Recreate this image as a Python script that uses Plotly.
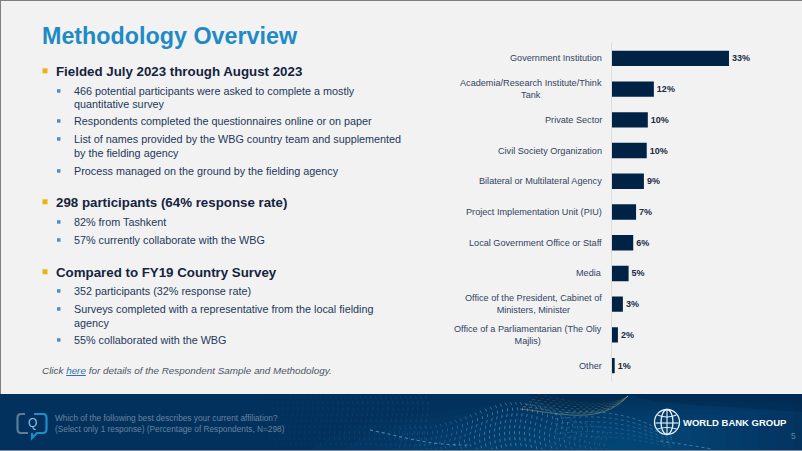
import math
import plotly.graph_objects as go

W, H = 802, 451
FONT = "Liberation Sans"

# ---------- chart data ----------
categories = [
    "Government Institution",
    "Academia/Research Institute/Think<br>Tank",
    "Private Sector",
    "Civil Society Organization",
    "Bilateral or Multilateral Agency",
    "Project Implementation Unit (PIU)",
    "Local Government Office or Staff",
    "Media",
    "Office of the President, Cabinet of<br>Ministers, Minister",
    "Office of a Parliamentarian (The Oliy<br>Majlis)",
    "Other",
]
values = [33, 11.9, 10.2, 9.9, 9.1, 6.9, 6.1, 4.8, 3.2, 1.8, 0.9]
value_labels = ["33%", "12%", "10%", "10%", "9%", "7%", "6%", "5%", "3%", "2%", "1%"]

# ---------- slide text ----------
title = "Methodology Overview"
headings = [
    ("Fielded July 2023 through August 2023", 71),
    ("298 participants (64% response rate)", 202),
    ("Compared to FY19 Country Survey", 272),
]
bullets = [
    ("466 potential participants were asked to complete a mostly", 91, True),
    ("quantitative survey", 104, False),
    ("Respondents completed the questionnaires online or on paper", 121, True),
    ("List of names provided by the WBG country team and supplemented", 139, True),
    ("by the fielding agency", 153, False),
    ("Process managed on the ground by the fielding agency", 171, True),
    ("82% from Tashkent", 222, True),
    ("57% currently collaborate with the WBG", 240, True),
    ("352 participants (32% response rate)", 291, True),
    ("Surveys completed with a representative from the local fielding", 309, True),
    ("agency", 323, False),
    ("55% collaborated with the WBG", 340, True),
]
footnote = ("Click <a href='#' style='color:#2f6fb5'><u>here</u></a> for details of the "
            "Respondent Sample and Methodology.")
question = ("Which of the following best describes your current affiliation?<br>"
            "(Select only 1 response) (Percentage of Respondents, N=298)")


def px(x):
    return x / W


def py(y):
    return 1 - y / H


def rect(x0, y0, x1, y1, color, layer="below"):
    return dict(type="rect", xref="paper", yref="paper", x0=px(x0), x1=px(x1),
                y0=py(y0), y1=py(y1), fillcolor=color, line_width=0, layer=layer)


def curve(cmds, fill=None, line=None, width=1, layer="below", dash="solid"):
    """cmds: list of (letter, x, y, ...) in pixels."""
    s = []
    for c in cmds:
        s.append(c[0] + " " + " ".join(
            f"{px(v):.5f}" if i % 2 == 0 else f"{py(v):.5f}" for i, v in enumerate(c[1:])))
    return dict(type="path", xref="paper", yref="paper", path=" ".join(s),
                fillcolor=fill or "rgba(0,0,0,0)",
                line=dict(color=line or "rgba(0,0,0,0)", width=width if line else 0, dash=dash), layer=layer)


def text(x, y, s, size, color, bold=False, italic=False, anchor="left", valign="middle", align=None):
    if bold:
        s = f"<b>{s}</b>"
    if italic:
        s = f"<i>{s}</i>"
    return dict(xref="paper", yref="paper", x=px(x), y=py(y), text=s, showarrow=False,
                xanchor=anchor, yanchor=valign, align=align or anchor,
                font=dict(family=FONT, size=size, color=color), borderpad=0, borderwidth=0)


shapes = []
# slide frame
shapes += [rect(0, 0, W, 1, "#7f7f7f"), rect(0, 0, 1, H, "#7f7f7f")]

# footer band
shapes.append(rect(0, 394, W, 450, "#03315d"))
shapes.append(rect(0, 450, W, H, "#7f8c99"))

# soft glow: nested translucent blobs clipped to the band
for i in range(10):
    f = 1 - i / 10
    xl, xr = 640 - 330 * f, 640 + 170 * f
    top = 438 - 44 * f
    shapes.append(curve([("M", xl, 450), ("C", xl + 60 * f, top, xr - 100 * f, top, xr, max(top, 396) + 6 * f),
                         ("L", xr, 450), ("Z",)], fill="rgba(12,105,155,0.06)"))

# dark swoosh behind the gold wave and on the right
shapes.append(curve([("M", 528, 394), ("C", 555, 414, 600, 422, 628, 394), ("Z",)], fill="rgba(0,34,66,0.40)"))
shapes.append(curve([("M", 628, 394), ("C", 650, 404, 690, 404, 802, 412), ("L", 802, 394), ("Z",)], fill="rgba(0,34,66,0.35)"))

# dotted mesh strands
for x in range(270, 430, 5):
    a = 0.05 + 0.10 * (x - 270) / 160
    shapes.append(curve([("M", x, 396), ("C", x + 10, 410, x - 8, 430, x + 3, 449)],
                        line=f"rgba(130,190,225,{a:.3f})", width=0.8, dash="dot"))
for x in range(400, 610, 5):
    a = 0.10 + 0.35 * math.exp(-((x - 510) / 70) ** 2)
    top = 428 - 26 * math.exp(-((x - 515) / 55) ** 2)
    shapes.append(curve([("M", x, top), ("C", x + 8, top + 10, x - 6, top + 20, x + 2, 449)],
                        line=f"rgba(150,205,235,{a:.3f})", width=0.9, dash="dot"))

# gold wave lines
for i in range(7):
    dy = -2.4 * i
    col = f"rgba(205,190,110,{0.5 - i * 0.06:.2f})"
    shapes.append(curve([("M", 520 + 3 * i, 409 + dy), ("C", 560, 413 + dy, 600, 426 + dy, 628, 396)],
                        line=col, width=0.8, dash="dot" if i else "solid"))

# blue wave lines
for i in range(6):
    dy = i * 5
    col = f"rgba(125,195,230,{0.40 - i * 0.05:.2f})"
    shapes.append(curve([("M", 555, 414 + dy), ("C", 600, 408 + dy, 640, 414 + dy, 672, 438 + dy * 0.4)],
                        line=col, width=0.9, dash="dot"))
shapes.append(curve([("M", 370, 430), ("C", 400, 436, 430, 446, 470, 445)], line="rgba(130,200,235,0.55)", width=1.1, dash="dot"))
shapes.append(curve([("M", 660, 441), ("C", 680, 444, 695, 446, 712, 449)], line="rgba(130,200,235,0.45)", width=1, dash="dot"))

# Q icon
shapes.append(curve([("M", 25, 414), ("L", 21, 414), ("Q", 17.5, 414, 17.5, 418), ("L", 17.5, 429), ("Q", 17.5, 433, 21, 433), ("L", 28, 433)],
                    line="#5c7c97", width=2.2))
shapes.append(curve([("M", 34, 414), ("L", 43, 414), ("Q", 46.5, 414, 46.5, 418), ("L", 46.5, 429), ("Q", 46.5, 433, 43, 433),
                     ("L", 37, 433), ("L", 32, 438), ("L", 32, 433)], line="#1f8dc6", width=2.2))

# globe logo
gx, gy, gr = 667, 422, 12.5
k = 0.5523
logo = "#e8f2f7"


def ell(rx, ry):
    return curve([("M", gx - rx, gy), ("C", gx - rx, gy - k * ry, gx - k * rx, gy - ry, gx, gy - ry),
                  ("C", gx + k * rx, gy - ry, gx + rx, gy - k * ry, gx + rx, gy),
                  ("C", gx + rx, gy + k * ry, gx + k * rx, gy + ry, gx, gy + ry),
                  ("C", gx - k * rx, gy + ry, gx - rx, gy + k * ry, gx - rx, gy), ("Z",)], line=logo, width=1.3)


shapes += [ell(gr, gr), ell(gr * 0.48, gr)]
shapes.append(curve([("M", gx, gy - gr), ("L", gx, gy + gr)], line=logo, width=1.1))
shapes.append(curve([("M", gx - gr + 1, gy + 1), ("L", gx + gr - 1, gy + 1)], line=logo, width=1.1))
shapes.append(curve([("M", gx - gr + 3, gy - 7), ("Q", gx, gy - 3, gx + gr - 3, gy - 7)], line=logo, width=1.1))
shapes.append(curve([("M", gx - gr + 3, gy + 7), ("Q", gx, gy + 4, gx + gr - 3, gy + 7)], line=logo, width=1.1))

# bullets
for _, y in headings:
    shapes.append(rect(42.5, y - 2.7, 47.5, y + 2.3, "#e6b60f"))
for _, y, mark in bullets:
    if mark:
        shapes.append(rect(57, y - 1.8, 60.5, y + 1.7, "#4f8fb8"))

annotations = [text(41.5, 36, title, 23.3, "#1f8ac4", bold=True)]
for s, y in headings:
    annotations.append(text(56, y, s, 13.3, "#14233f", bold=True))
for s, y, _ in bullets:
    annotations.append(text(74, y, s, 10.8, "#22385a"))
annotations.append(text(41.5, 370, footnote, 9.9, "#4a5568", italic=True))
annotations.append(text(55, 423, question, 8.3, "#66849c"))
annotations.append(text(32, 423, "Q", 12, "#8cc4e4", anchor="center"))
annotations.append(text(682.5, 422, "WORLD BANK GROUP", 9.5, "#ffffff", bold=True))
annotations.append(text(793, 436, "5", 8.5, "#5f87a0", anchor="center"))

# category labels, tied to the chart's own category axis
for c in categories:
    annotations.append(dict(xref="paper", yref="y", x=px(603.5), y=c, text=c, showarrow=False,
                            xanchor="right", yanchor="middle", align="center",
                            font=dict(family=FONT, size=9.15, color="#33425f")))

fig = go.Figure(go.Bar(
    x=values, y=categories, orientation="h", marker=dict(color="#002244", line_width=0),
    text=value_labels, textposition="outside", cliponaxis=False,
    textfont=dict(family=FONT, size=9, color="#1b2a45", weight="bold"), hoverinfo="skip",
))

X0, Y0, Y1 = 611.5, 43, 381
fig.update_layout(
    width=W, height=H, margin=dict(l=0, r=0, t=0, b=0), autosize=False,
    paper_bgcolor="#f2f2f2", plot_bgcolor="rgba(0,0,0,0)", showlegend=False,
    bargap=0.5, shapes=shapes, annotations=annotations,
    xaxis=dict(domain=[px(X0), 1], range=[0, (W - X0) / 3.56], visible=False, fixedrange=True),
    yaxis=dict(domain=[py(Y1), py(Y0)], autorange="reversed", showticklabels=False, ticks="",
               showline=True, linecolor="#dcdcdc", linewidth=1, showgrid=False, zeroline=False, fixedrange=True),
)

post = "document.body.style.margin='0';document.body.style.overflow='hidden';"
fig.write_html("out.html", config=dict(displayModeBar=False), post_script=post)
